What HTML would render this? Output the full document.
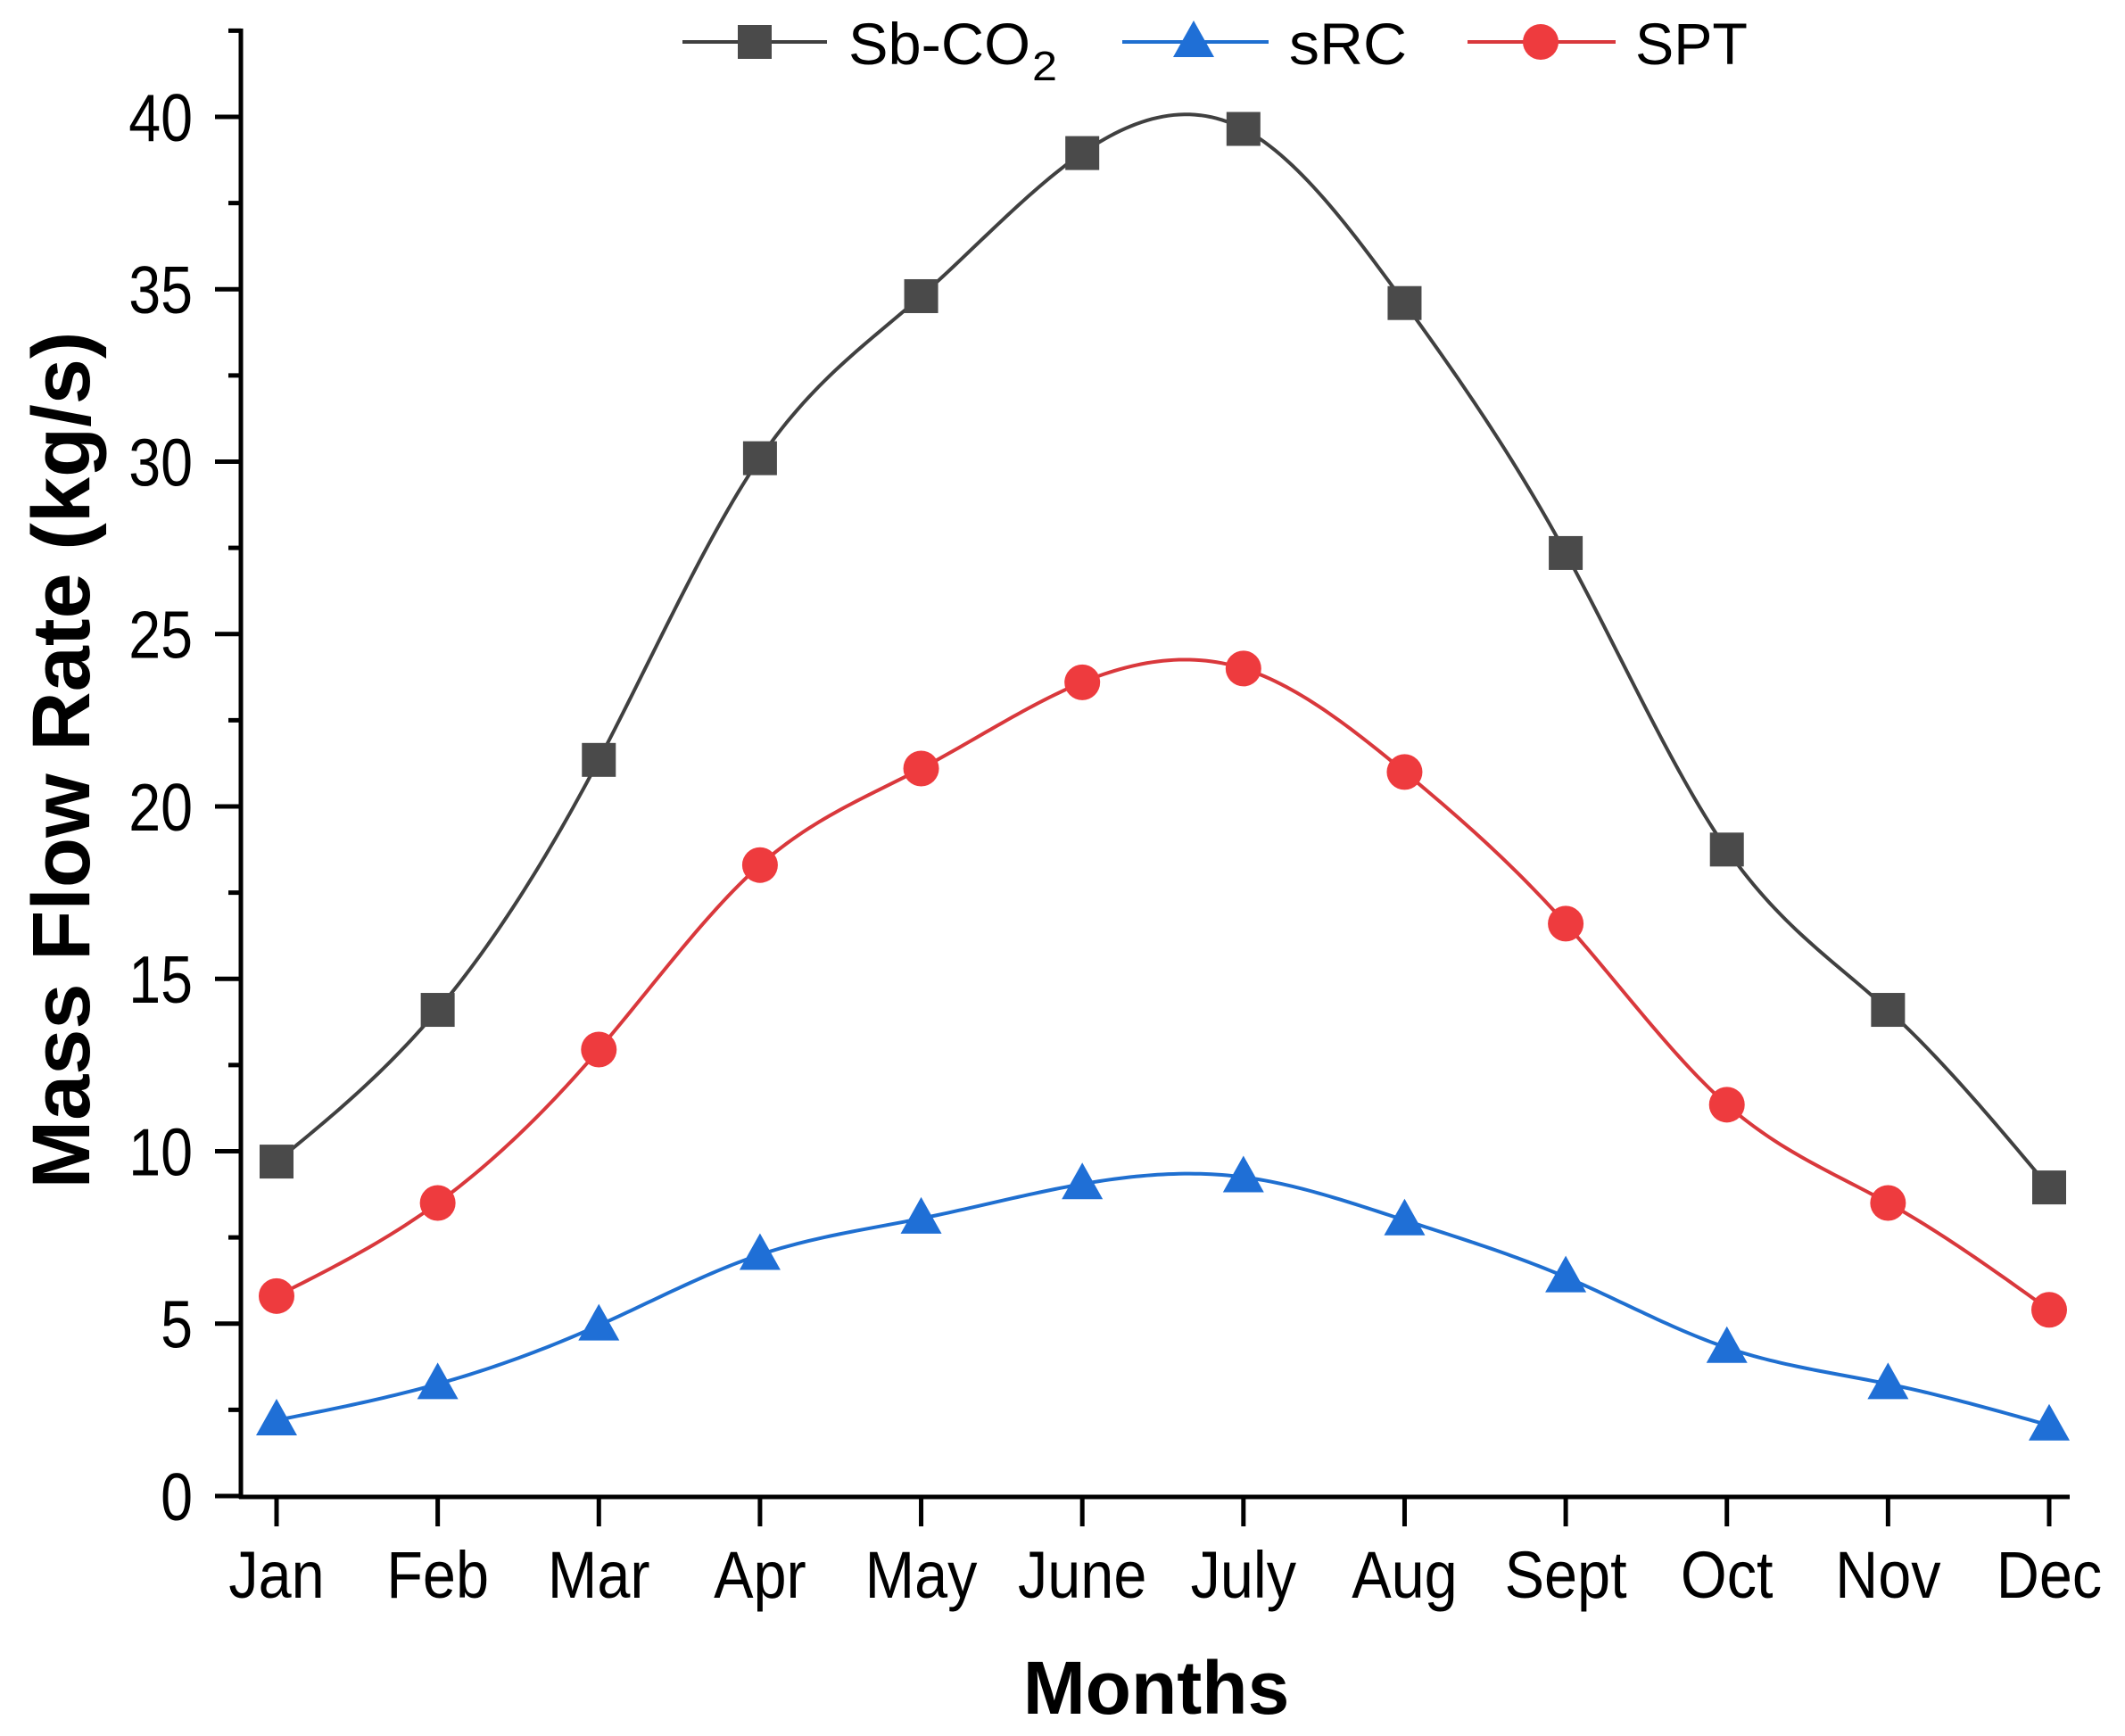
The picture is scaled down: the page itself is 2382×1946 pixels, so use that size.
<!DOCTYPE html>
<html><head><meta charset="utf-8"><style>
html,body{margin:0;padding:0;background:#fff}
svg{display:block}
text{font-family:"Liberation Sans",Arial,sans-serif;fill:#000}
</style></head><body>
<svg id="chart" width="2382" height="1946" viewBox="0 0 2382 1946" xmlns="http://www.w3.org/2000/svg">
<g id="plot"></g>
<g id="axes"></g>
<g id="legend"></g>
<text transform="translate(100,852) rotate(-90)" text-anchor="middle" font-size="92" font-weight="bold">Mass Flow Rate (kg/s)</text>
<text x="1296" y="1921" text-anchor="middle" font-size="84" font-weight="bold">Months</text>
</svg>
<script>
const months = ["Jan","Feb","Mar","Apr","May","June","July","Aug","Sept","Oct","Nov","Dec"];
const sbco2 = [9.7,14.1,21.35,30.1,34.8,38.95,39.65,34.6,27.35,18.75,14.1,8.95];
const src = [2.2,3.25,4.95,7.0,8.05,9.05,9.25,8.0,6.35,4.3,3.25,2.05];
const spt = [5.8,8.5,12.95,18.3,21.1,23.6,24.0,21.0,16.6,11.35,8.5,5.4];
const yTicks = [0,5,10,15,20,25,30,35,40];
const yMinor = [2.5,7.5,12.5,17.5,22.5,27.5,32.5,37.5,42.5];

const NS="http://www.w3.org/2000/svg";
const X0=310, DX=(2297-310)/11;
function xs(i){return X0+i*DX;}
function ys(v){return 1677-v*38.65;}
function mk(tag,attrs,parent){const e=document.createElementNS(NS,tag);for(const k in attrs)e.setAttribute(k,attrs[k]);parent.appendChild(e);return e;}
const plot=document.getElementById('plot'),axes=document.getElementById('axes'),legend=document.getElementById('legend');

function spline(vals){
  const n=vals.length,h=DX,x=vals.map((v,i)=>xs(i)),y=vals.map(ys);
  const a=new Array(n).fill(0),b=new Array(n).fill(0),c=new Array(n).fill(0),d=new Array(n).fill(0),m=new Array(n).fill(0);
  for(let i=1;i<n-1;i++){a[i]=h;b[i]=4*h;c[i]=h;d[i]=6*(y[i+1]-2*y[i]+y[i-1])/h;}
  const cp=new Array(n).fill(0),dp=new Array(n).fill(0);
  for(let i=1;i<n-1;i++){const den=b[i]-a[i]*cp[i-1];cp[i]=c[i]/den;dp[i]=(d[i]-a[i]*dp[i-1])/den;}
  for(let i=n-2;i>=1;i--){m[i]=dp[i]-cp[i]*m[i+1];}
  let p="M"+x[0]+","+y[0];
  for(let i=0;i<n-1;i++){
    for(let s=1;s<=30;s++){const t=s/30,xx=x[i]+t*h,A=1-t,B=t;
      const yy=A*y[i]+B*y[i+1]+((A*A*A-A)*m[i]+(B*B*B-B)*m[i+1])*h*h/6;
      p+=" L"+xx.toFixed(2)+","+yy.toFixed(2);}
  }
  return p;
}
function marker(type,cx,cy,col,parent,name){
  let e;
  if(type==='sq') e=mk('rect',{x:cx-19,y:cy-19,width:38,height:38,fill:col},parent);
  else if(type==='tri') e=mk('polygon',{points:`${cx},${cy-24} ${cx+23},${cy+17} ${cx-23},${cy+17}`,fill:col},parent);
  else e=mk('circle',{cx:cx,cy:cy,r:20,fill:col},parent);
  
  
  return e;
}
const series=[
 {name:'sb-co2',vals:sbco2,line:'#404040',fill:'#4a4a4a',m:'sq'},
 {name:'src',vals:src,line:'#1f6fd0',fill:'#1f6fd6',m:'tri'},
 {name:'spt',vals:spt,line:'#d9383c',fill:'#ee3b3e',m:'ci'}
];
series.forEach(s=>{
  const g=mk('g',{},plot);
  
  
  const l=mk('path',{d:spline(s.vals),fill:'none',stroke:s.line,'stroke-width':4},g);
  
  
  s.vals.forEach((v,i)=>marker(s.m,xs(i),ys(v),s.fill,g,s.name+'-point-'+months[i].toLowerCase()));
});
let e=mk('line',{x1:270,y1:32,x2:270,y2:1680,stroke:'#000','stroke-width':5},axes);


e=mk('line',{x1:268,y1:1678,x2:2320,y2:1678,stroke:'#000','stroke-width':5},axes);


yTicks.forEach(v=>{
  const t=mk('line',{x1:241,y1:ys(v),x2:270,y2:ys(v),stroke:'#000','stroke-width':5},axes);
  
  
  const l=mk('text',{x:216,y:ys(v)+27,'text-anchor':'end','font-size':75,transform:`translate(216,0) scale(0.86,1) translate(-216,0)`},axes);
  l.textContent=v;
  
  
});
yMinor.forEach(v=>{
  const t=mk('line',{x1:256,y1:ys(v),x2:270,y2:ys(v),stroke:'#000','stroke-width':5},axes);
  
  
});
months.forEach((m,i)=>{
  const t=mk('line',{x1:xs(i),y1:1678,x2:xs(i),y2:1711,stroke:'#000','stroke-width':5},axes);
  
  
  const l=mk('text',{x:xs(i),y:1791,'text-anchor':'middle','font-size':74,transform:`translate(${xs(i)},0) scale(0.9,1) translate(${-xs(i)},0)`},axes);
  l.textContent=m;
  
  
});
const leg=[
 {lx:765,rx:927,cx:846,tx:951,label:'Sb-CO',sub:'2',s:series[0],w:204},
 {lx:1258,rx:1422,cx:1338,tx:1445,label:'sRC',s:series[1],w:132},
 {lx:1645,rx:1811,cx:1727,tx:1833,label:'SPT',s:series[2],w:126}
];
leg.forEach(o=>{
  const g=mk('g',{},legend);
  
  
  mk('line',{x1:o.lx,y1:47,x2:o.rx,y2:47,stroke:o.s.line,'stroke-width':4},g);
  marker(o.s.m,o.cx,47,o.s.fill,g,'legend-marker-'+o.s.name);
  const t=mk('text',{x:o.tx,y:72,'font-size':66,textLength:o.w,lengthAdjust:'spacingAndGlyphs'},g);
  t.textContent=o.label;
  
  
  if(o.sub){const s=mk('text',{x:o.tx+o.w+2,y:90,'font-size':46,textLength:28,lengthAdjust:'spacingAndGlyphs'},g);s.textContent=o.sub;
    
    }
});
</script>
</body></html>
